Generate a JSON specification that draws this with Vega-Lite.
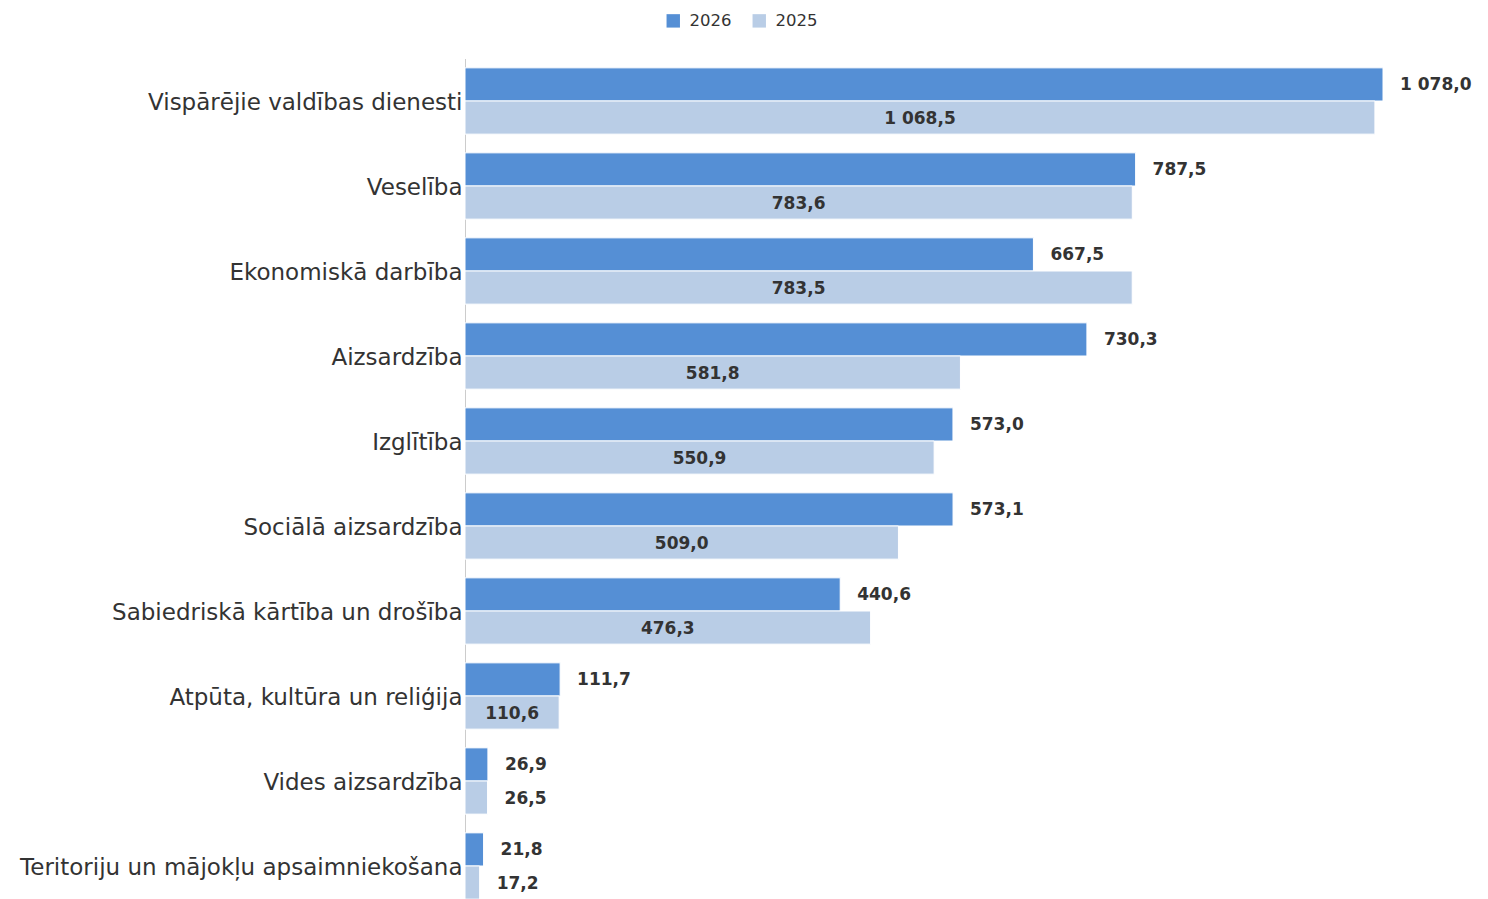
{
  "$schema": "https://vega.github.io/schema/vega-lite/v6.json",
  "autosize": {"type": "none"},
  "padding": {"left": 465, "top": 58.5, "right": 105, "bottom": 0},
  "width": 918,
  "height": 850,
  "background": "white",
  "config": {
    "view": {"stroke": null},
    "font": "DejaVu Sans"
  },
  "data": {
    "values": [
      {"category": "Vispārējie valdības dienesti", "year": "2026", "value": 1078.0},
      {"category": "Vispārējie valdības dienesti", "year": "2025", "value": 1068.5},
      {"category": "Veselība", "year": "2026", "value": 787.5},
      {"category": "Veselība", "year": "2025", "value": 783.6},
      {"category": "Ekonomiskā darbība", "year": "2026", "value": 667.5},
      {"category": "Ekonomiskā darbība", "year": "2025", "value": 783.5},
      {"category": "Aizsardzība", "year": "2026", "value": 730.3},
      {"category": "Aizsardzība", "year": "2025", "value": 581.8},
      {"category": "Izglītība", "year": "2026", "value": 573.0},
      {"category": "Izglītība", "year": "2025", "value": 550.9},
      {"category": "Sociālā aizsardzība", "year": "2026", "value": 573.1},
      {"category": "Sociālā aizsardzība", "year": "2025", "value": 509.0},
      {"category": "Sabiedriskā kārtība un drošība", "year": "2026", "value": 440.6},
      {"category": "Sabiedriskā kārtība un drošība", "year": "2025", "value": 476.3},
      {"category": "Atpūta, kultūra un reliģija", "year": "2026", "value": 111.7},
      {"category": "Atpūta, kultūra un reliģija", "year": "2025", "value": 110.6},
      {"category": "Vides aizsardzība", "year": "2026", "value": 26.9},
      {"category": "Vides aizsardzība", "year": "2025", "value": 26.5},
      {"category": "Teritoriju un mājokļu apsaimniekošana", "year": "2026", "value": 21.8},
      {"category": "Teritoriju un mājokļu apsaimniekošana", "year": "2025", "value": 17.2}
    ]
  },
  "transform": [
    {"calculate": "replace(format(datum.value, ',.1f'), ',', ' ')", "as": "lbl0"},
    {"calculate": "replace(datum.lbl0, '.', ',')", "as": "label"},
    {"calculate": "datum.value / 2", "as": "mid"}
  ],
  "encoding": {
    "y": {
      "field": "category",
      "type": "nominal",
      "sort": null,
      "title": null,
      "scale": {"paddingInner": 0.22, "paddingOuter": 0.11},
      "axis": {
        "domainColor": "#cccccc",
        "domainWidth": 1,
        "ticks": false,
        "labelFontSize": 23,
        "labelColor": "#333333",
        "labelPadding": 3,
        "labelOffset": 2,
        "labelFont": "DejaVu Sans",
        "labelLimit": 600
      }
    },
    "yOffset": {
      "field": "year",
      "type": "nominal",
      "sort": ["2026", "2025"],
      "scale": {"paddingInner": 0, "paddingOuter": 0}
    }
  },
  "layer": [
    {
      "mark": {"type": "bar", "stroke": "white", "strokeWidth": 1},
      "encoding": {
        "x": {
          "field": "value",
          "type": "quantitative",
          "scale": {"domain": [0, 1078], "nice": false},
          "axis": null
        },
        "color": {
          "field": "year",
          "type": "nominal",
          "sort": ["2026", "2025"],
          "scale": {"domain": ["2026", "2025"], "range": ["#558fd5", "#b9cde6"]},
          "legend": {
            "orient": "none",
            "direction": "horizontal",
            "legendX": 200,
            "legendY": -46,
            "title": null,
            "symbolType": "square",
            "symbolSize": 180,
            "symbolStrokeWidth": 0,
            "labelFontSize": 16.5,
            "labelColor": "#333333",
            "columnPadding": 19,
            "labelOffset": 8,
            "padding": 0
          }
        }
      }
    },
    {
      "transform": [{"filter": "datum.year == '2026' || datum.value < 60"}],
      "mark": {"type": "text", "align": "left", "baseline": "middle", "dx": 17, "dy": 1, "fontSize": 17, "fontWeight": "bold", "color": "#333333"},
      "encoding": {
        "x": {"field": "value", "type": "quantitative"},
        "text": {"field": "label"}
      }
    },
    {
      "transform": [{"filter": "datum.year == '2025' && datum.value >= 60"}],
      "mark": {"type": "text", "align": "center", "baseline": "middle", "dy": 1, "fontSize": 17, "fontWeight": "bold", "color": "#333333"},
      "encoding": {
        "x": {"field": "mid", "type": "quantitative"},
        "text": {"field": "label"}
      }
    }
  ]
}
